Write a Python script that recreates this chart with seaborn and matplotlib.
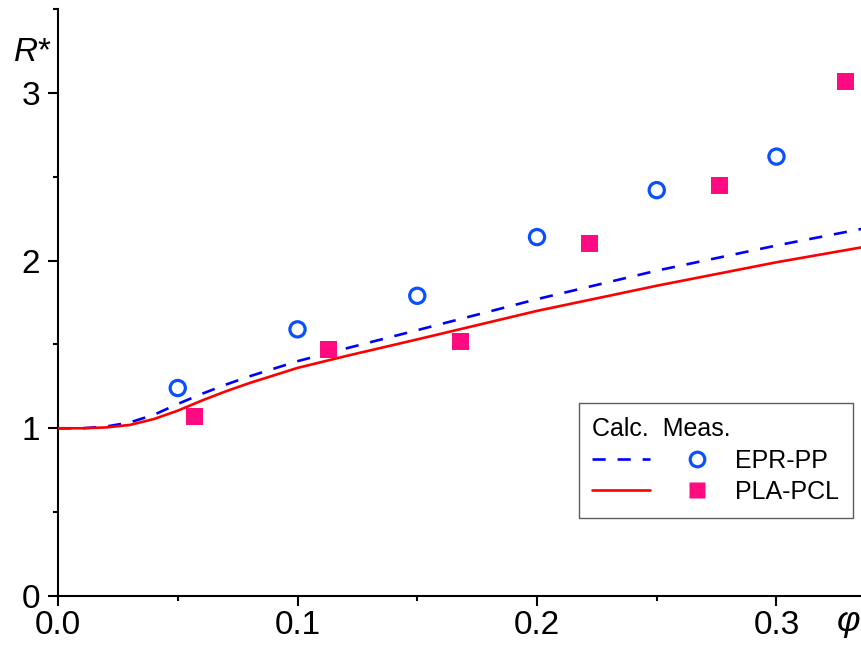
import matplotlib
matplotlib.use("Agg")
import matplotlib.pyplot as plt
from matplotlib.lines import Line2D
from matplotlib.legend_handler import HandlerTuple
from matplotlib.ticker import MultipleLocator, FormatStrFormatter
import numpy as np
import pandas as pd
import seaborn as sns

# curvas calculadas
phi_calc = [0.0, 0.01, 0.02, 0.03, 0.04, 0.05, 0.06, 0.07, 0.08, 0.09, 0.10, 0.12, 0.15, 0.20, 0.25, 0.30, 0.336]
r_epr_calc = [1.0, 1.0, 1.01, 1.035, 1.08, 1.145, 1.205, 1.26, 1.31, 1.355, 1.40, 1.475, 1.585, 1.77, 1.94, 2.09, 2.19]
r_pla_calc = [1.0, 1.0, 1.005, 1.02, 1.055, 1.105, 1.165, 1.22, 1.27, 1.315, 1.36, 1.43, 1.53, 1.70, 1.85, 1.99, 2.08]

# mediciones
phi_epr = [0.05, 0.10, 0.15, 0.20, 0.25, 0.30]
r_epr = [1.24, 1.59, 1.79, 2.14, 2.42, 2.62]
phi_pla = [0.057, 0.113, 0.168, 0.222, 0.276, 0.329]
r_pla = [1.07, 1.47, 1.52, 2.10, 2.45, 3.07]

sns.set_style("ticks")
plt.rcParams['font.family'] = ['Liberation Sans', 'DejaVu Sans']
plt.rcParams['text.color'] = 'black'
plt.rcParams['mathtext.fontset'] = 'custom'
plt.rcParams['mathtext.it'] = 'Liberation Sans:italic'
plt.rcParams['mathtext.rm'] = 'Liberation Sans'

fig = plt.figure(figsize=(8.62, 6.45), dpi=100)
ax = fig.add_axes([0.0673, 0.076, 0.9327, 0.910])

calc = pd.DataFrame({"phi": phi_calc, "epr": r_epr_calc, "pla": r_pla_calc})
sns.lineplot(data=calc, x="phi", y="epr", ax=ax, color="#0000FF", lw=1.9,
             zorder=3).lines[-1].set_dashes((5, 4.5))
sns.lineplot(data=calc, x="phi", y="pla", ax=ax, color="#FF0000", lw=1.9, zorder=3)

sns.scatterplot(x=phi_epr, y=r_epr, ax=ax, marker="o", s=120, facecolor="none",
                edgecolor="#0A50FF", linewidth=2.3, zorder=4)
sns.scatterplot(x=phi_pla, y=r_pla, ax=ax, marker="s", s=150, color="#FF0A80",
                edgecolor="none", zorder=4)

ax.set_xlim(0, 0.3357)
ax.set_ylim(0, 3.5)
ax.set_xlabel("")
ax.set_ylabel("")
ax.xaxis.set_major_locator(MultipleLocator(0.1))
ax.xaxis.set_minor_locator(MultipleLocator(0.05))
ax.xaxis.set_major_formatter(FormatStrFormatter("%.1f"))
ax.yaxis.set_major_locator(MultipleLocator(1))
ax.yaxis.set_minor_locator(MultipleLocator(0.5))
ax.tick_params(which="major", length=7, width=1.5, labelsize=24, colors="black")
ax.tick_params(which="minor", length=3.5, width=1.5, colors="black")
ax.tick_params(axis="y", pad=6)
ax.tick_params(axis="x", pad=3)
for s in ["left", "bottom"]:
    ax.spines[s].set_linewidth(1.5)
    ax.spines[s].set_color("black")
sns.despine(ax=ax)
ax.spines["bottom"].set_zorder(5)

# leyenda con encabezado Calc. / Meas.
l_epr = Line2D([], [], color="#0000FF", lw=1.9, dashes=(5, 4.5))
l_pla = Line2D([], [], color="#FF0000", lw=1.9)
m_epr = Line2D([], [], ls="none", marker="o", ms=10.5, mfc="none", mec="#0A50FF", mew=2.3)
m_pla = Line2D([], [], ls="none", marker="s", ms=11.5, mfc="#FF0A80", mec="none")
leg = ax.legend([(l_epr, m_epr), (l_pla, m_pla)], ["EPR-PP", "PLA-PCL"],
                handler_map={tuple: HandlerTuple(ndivide=2, pad=0.72)},
                title="Calc.  Meas.", title_fontsize=18, fontsize=18,
                loc="lower right", bbox_to_anchor=(0.989, 0.133), borderaxespad=0,
                handlelength=5.36, handletextpad=0.36, labelspacing=0.3,
                borderpad=0.55, frameon=True, fancybox=False, alignment="left")
leg.get_frame().set_edgecolor("#333333")
leg.get_frame().set_linewidth(1.0)

fig.text(0.015, 0.905, r"$\mathit{R}$*", fontsize=24)
fig.text(0.971, 0.022, "φ", fontsize=26, style="italic")

fig.savefig("out.png", dpi=100)
